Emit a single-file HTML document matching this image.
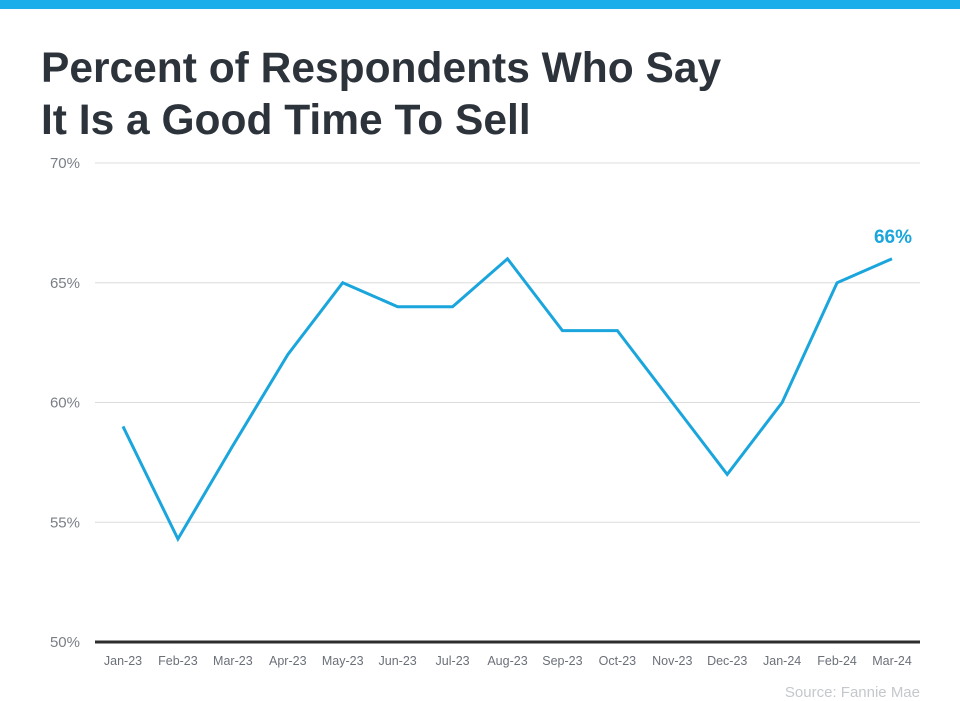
<!DOCTYPE html>
<html><head><meta charset="utf-8"><style>
html,body{margin:0;padding:0;background:#fff;width:960px;height:701px;overflow:hidden;font-family:"Liberation Sans",Arial,sans-serif}
#bar{position:absolute;left:0;top:0;width:960px;height:9px;background:#1aaeea}
svg{position:absolute;left:0;top:0}
</style></head><body>
<div id="bar"></div>
<svg id="chart" width="960" height="701">
<text x="41" y="82" font-size="42.5" font-weight="bold" fill="#2d333b">Percent of Respondents Who Say</text>
<text x="41" y="134" font-size="42.5" font-weight="bold" fill="#2d333b">It Is a Good Time To Sell</text>
<text x="920" y="697" font-size="15" fill="#c4c8cc" text-anchor="end">Source: Fannie Mae</text>
</svg>
<script>
const categories=["Jan-23","Feb-23","Mar-23","Apr-23","May-23","Jun-23","Jul-23","Aug-23","Sep-23","Oct-23","Nov-23","Dec-23","Jan-24","Feb-24","Mar-24"];
const values=[59,54.3,58.2,62,65,64,64,66,63,63,60,57,60,65,66];
const yTicks=[50,55,60,65,70];
const yTickLabels=["50%","55%","60%","65%","70%"];
const NS="http://www.w3.org/2000/svg";
const svg=document.getElementById('chart');
const x0=123,x1=892,yTop=163,yBot=642,yMin=50,yMax=70;
const xs=i=>x0+(x1-x0)*i/(categories.length-1);
const ys=v=>yBot-(v-yMin)/(yMax-yMin)*(yBot-yTop);
function mk(t,a){const e=document.createElementNS(NS,t);for(const k in a)e.setAttribute(k,a[k]);svg.appendChild(e);return e;}
yTicks.forEach((v,i)=>{
  if(v!==yMin){const g=mk('line',{x1:95,x2:920,y1:ys(v),y2:ys(v),stroke:'#dcdcdc','stroke-width':1});
  
  }
  const t=mk('text',{x:80,y:ys(v)+5,'font-size':15,fill:'#7a7f86','text-anchor':'end'});
  t.textContent=yTickLabels[i];
  
  
});
const ax=mk('line',{x1:95,x2:920,y1:yBot,y2:yBot,stroke:'#2d2d2d','stroke-width':3});


categories.forEach((c,i)=>{
  const t=mk('text',{x:xs(i),y:665,'font-size':12.5,fill:'#6b7078','text-anchor':'middle'});
  t.textContent=c;
  
  
});
const p=mk('polyline',{points:values.map((v,i)=>xs(i)+','+ys(v)).join(' '),fill:'none',stroke:'#1aa6dc','stroke-width':3,'stroke-linejoin':'miter'});


const last=values.length-1;
const lb=mk('text',{x:xs(last)+1,y:ys(values[last])-16,'font-size':19,'font-weight':'bold',fill:'#1aa6dc','text-anchor':'middle'});
lb.textContent=values[last]+'%';


</script>
</body></html>
